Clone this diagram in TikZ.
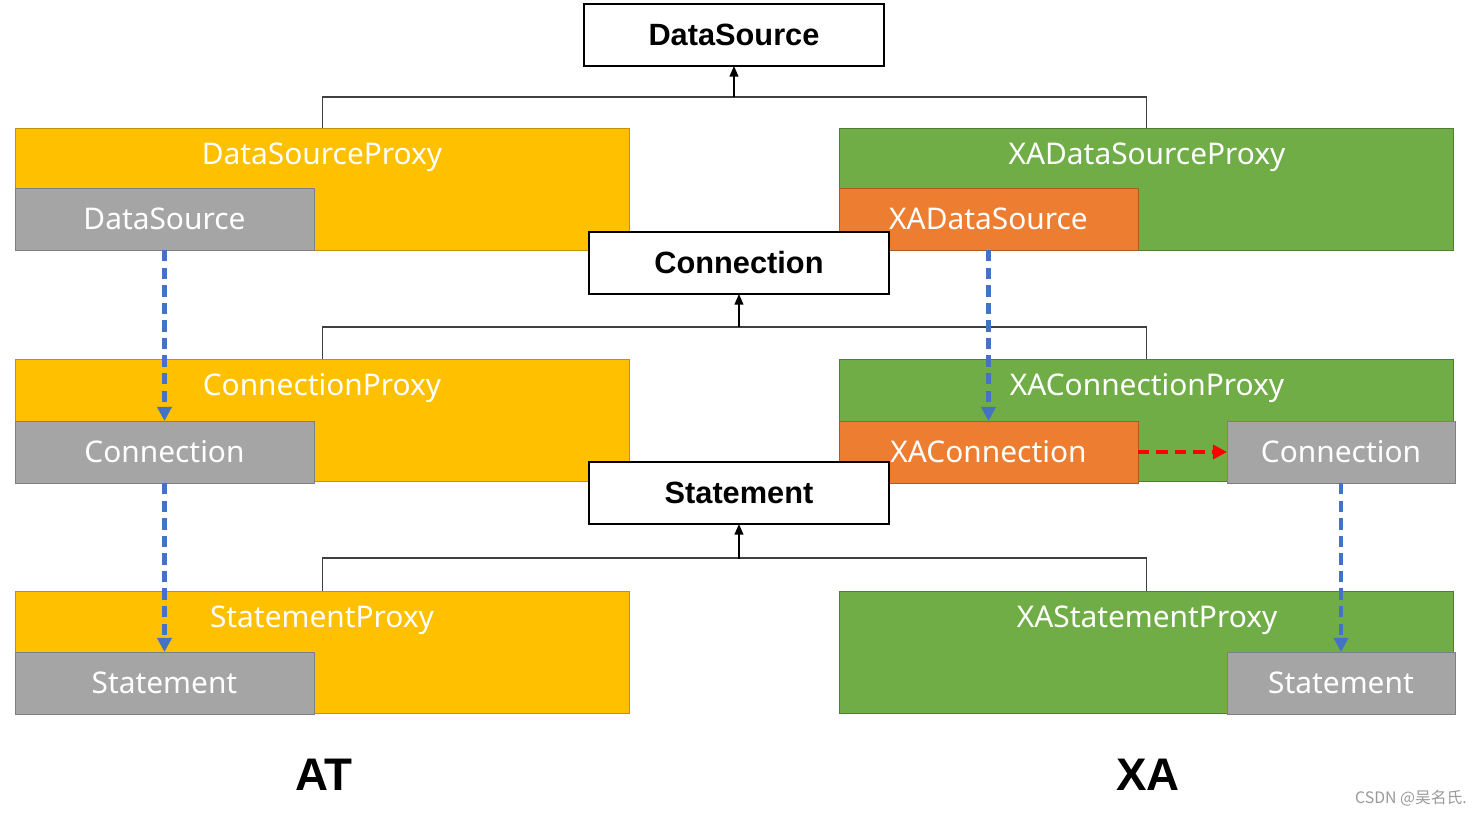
\documentclass[tikz,border=0pt]{standalone}
\usepackage{fontspec}
\setmainfont{Noto Sans}
\newfontfamily\heavy{Liberation Sans}
\newfontfamily\cjk{Noto Sans CJK SC}
\usetikzlibrary{arrows.meta}
\definecolor{atyellow}{HTML}{FFC000}
\definecolor{atyellowdark}{HTML}{C59300}
\definecolor{xagreen}{HTML}{70AD47}
\definecolor{xagreendark}{HTML}{507E32}
\definecolor{xaorange}{HTML}{ED7D31}
\definecolor{xaorangedark}{HTML}{AE5A21}
\definecolor{boxgray}{HTML}{A5A5A5}
\definecolor{boxgraydark}{HTML}{7F7F7F}
\definecolor{flowblue}{HTML}{4472C4}
\begin{document}
\begin{tikzpicture}[x=0.02cm, y=-0.02cm,
  base/.style={anchor=north west, inner sep=0pt, outer sep=0pt, line width=0.5pt},
  yel/.style={base, fill=atyellow, draw=atyellowdark, minimum width=12.3cm, minimum height=2.44cm},
  grn/.style={base, fill=xagreen, draw=xagreendark, minimum width=12.3cm, minimum height=2.44cm},
  inbox/.style={base, minimum width=5.98cm, minimum height=1.24cm, text=white, font=\fontsize{17}{20}\selectfont},
  gry/.style={inbox, fill=boxgray, draw=boxgraydark},
  org/.style={inbox, fill=xaorange, draw=xaorangedark},
  iface/.style={base, draw=black, fill=white, line width=0.9pt, minimum width=6cm, minimum height=1.24cm, font=\heavy\bfseries\fontsize{17.5}{20}\selectfont},
  headtxt/.style={text=white, font=\fontsize{17}{20}\selectfont},
  tie/.style={draw=black!75, line width=0.7pt},
  up/.style={draw=black, line width=0.8pt, -{Triangle[length=6pt,width=5pt]}},
  flow/.style={draw=flowblue, line width=2.4pt, dash pattern=on 6.5pt off 3.5pt, -{Triangle[length=8pt,width=8pt]}},
  wrap/.style={draw=red, line width=2.4pt, dash pattern=on 6.5pt off 4pt, -{Triangle[length=8pt,width=8pt]}},
  tag/.style={font=\heavy\bfseries\fontsize{26}{30}\selectfont},
  wmark/.style={text=black!40, font=\cjk\fontsize{9}{11}\selectfont}]
\useasboundingbox (0,0) rectangle (1483,816);
% AT side
\node[yel] (dsp) at (15,128) {};
\node[headtxt] (dsp-t) at (322,157) {DataSourceProxy};
\node[gry] (ds1) at (15,188) {DataSource};
\node[yel] (cp) at (15,359) {};
\node[headtxt] (cp-t) at (322,388) {ConnectionProxy};
\node[gry] (c1) at (15,421) {Connection};
\node[yel] (sp) at (15,591) {};
\node[headtxt] (sp-t) at (322,620) {StatementProxy};
\node[gry] (s1) at (15,652) {Statement};
% XA side
\node[grn] (xdsp) at (839,128) {};
\node[headtxt] (xdsp-t) at (1147,157) {XADataSourceProxy};
\node[org] (xds) at (839,188) {XADataSource};
\node[grn] (xcp) at (839,359) {};
\node[headtxt] (xcp-t) at (1147,388) {XAConnectionProxy};
\node[org] (xc) at (839,421) {XAConnection};
\node[gry, minimum width=4.56cm] (c2) at (1227,421) {Connection};
\node[grn] (xsp) at (839,591) {};
\node[headtxt] (xsp-t) at (1147,620) {XAStatementProxy};
\node[gry, minimum width=4.56cm] (s2) at (1227,652) {Statement};
% interfaces
\node[iface] (ds) at (584,4) {DataSource};
\node[iface] (con) at (589,232) {Connection};
\node[iface] (stm) at (589,462) {Statement};
% implements
\draw[tie] (dsp.north) -- ++(0,-31) -| (xdsp.north);
\draw[up] ([yshift=-0.62cm]ds.south) -- (ds.south);
\draw[tie] (cp.north) -- ++(0,-32) -| (xcp.north);
\draw[up] ([yshift=-0.66cm]con.south) -- (con.south);
\draw[tie] (sp.north) -- ++(0,-33) -| (xsp.north);
\draw[up] ([yshift=-0.70cm]stm.south) -- (stm.south);
% creates
\draw[flow] (ds1.south) -- (c1.north);
\draw[flow] (c1.south) -- (s1.north);
\draw[flow] (xds.south) -- (xc.north);
\draw[flow] (c2.south) -- (s2.north);
\draw[wrap] (xc.east) -- (c2.west);
\node[tag] (at) at (324,775) {AT};
\node[tag] (xa) at (1148,775) {XA};
\node[wmark] (wm) at (1411,798) {CSDN @吴名氏.};
\end{tikzpicture}
\end{document}
